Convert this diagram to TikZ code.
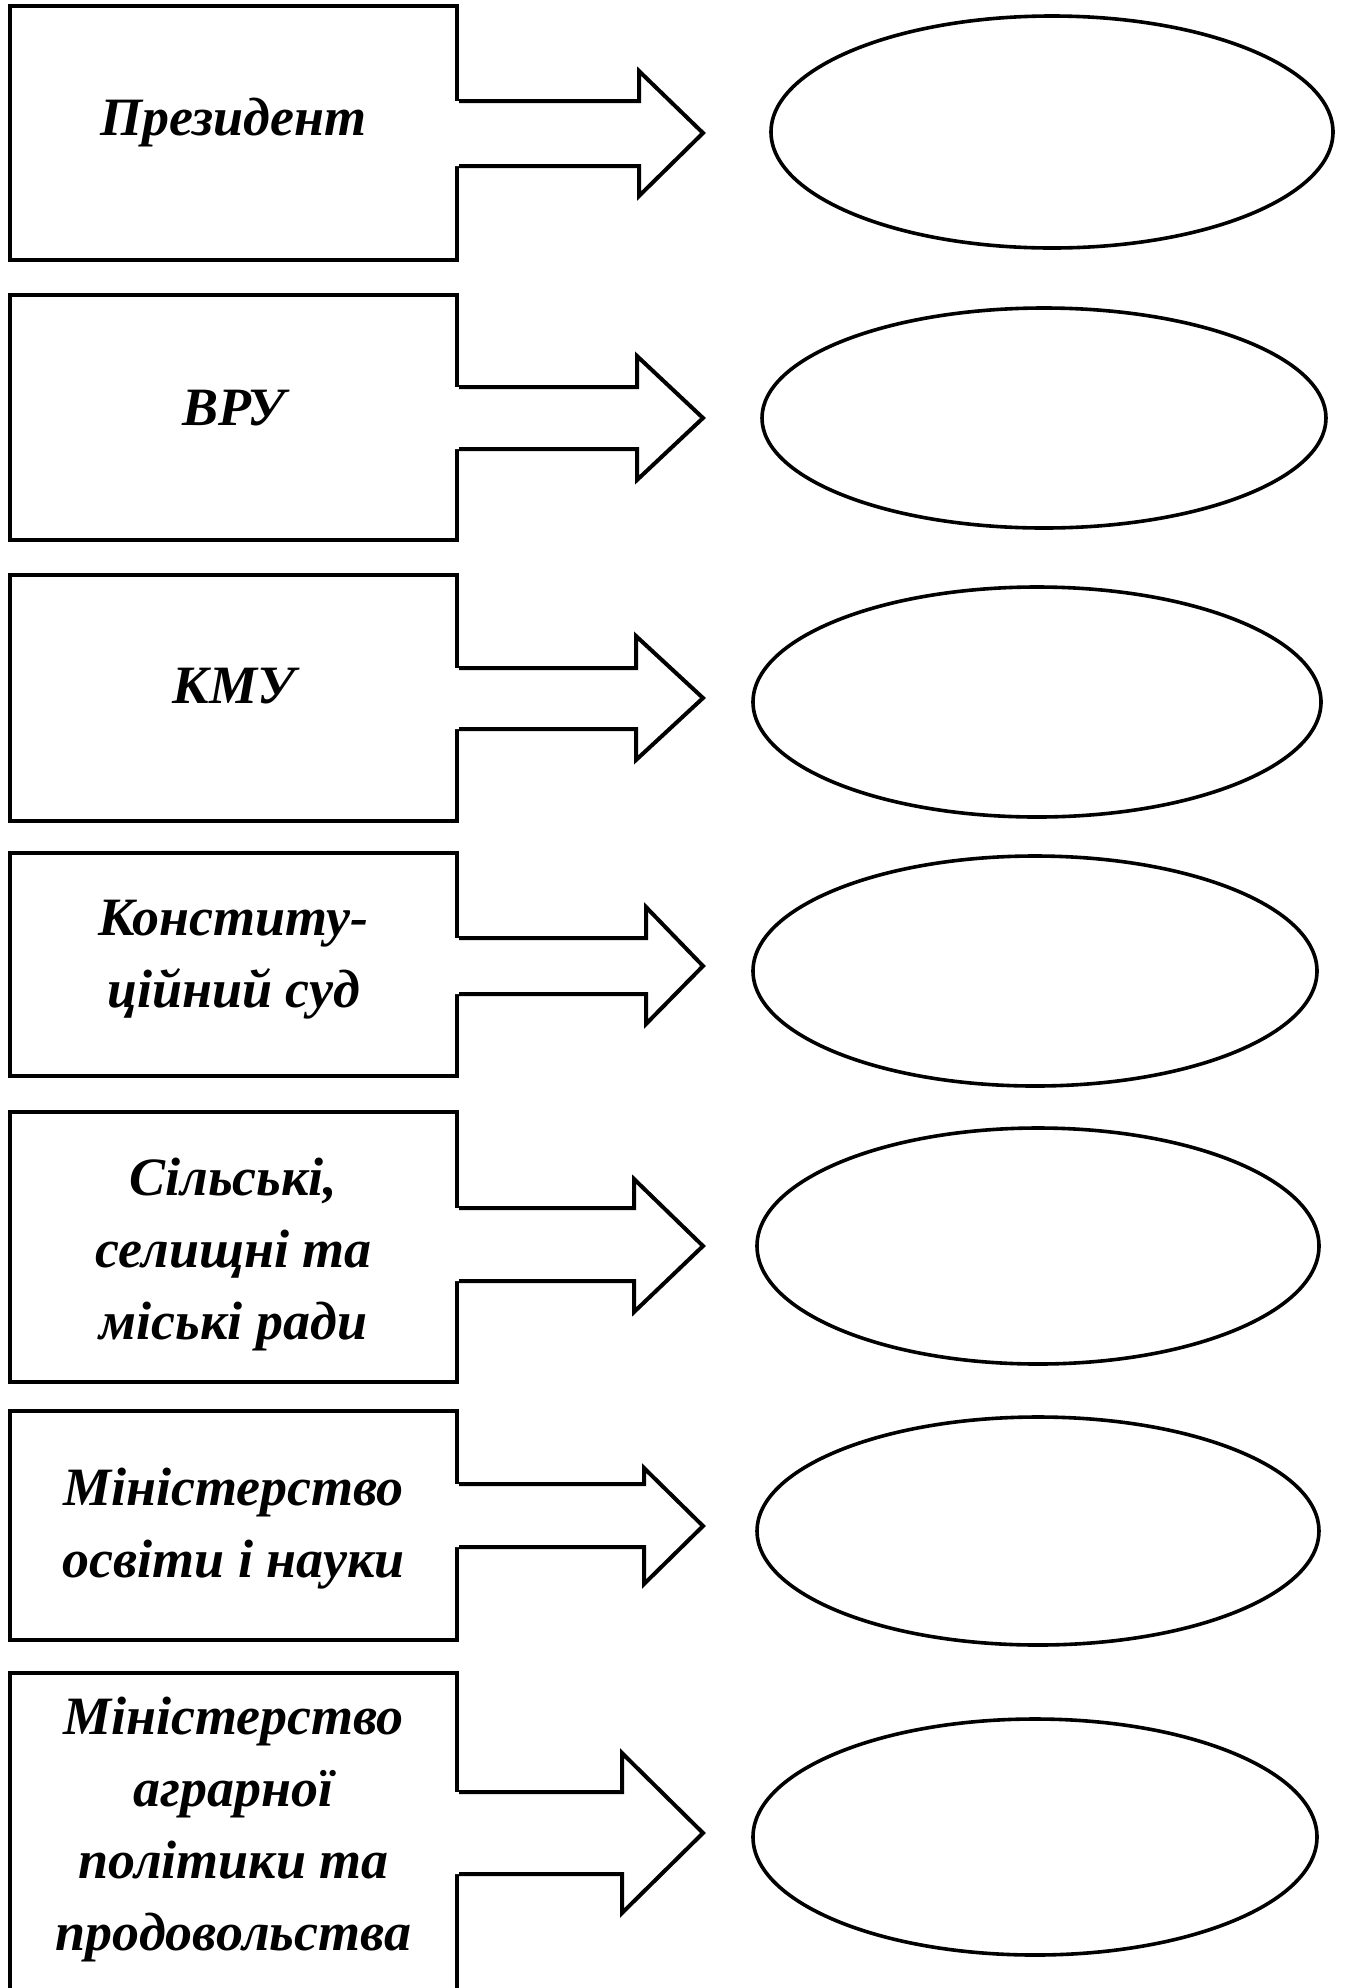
\documentclass[tikz,border=0pt]{standalone}
\usepackage{fontspec}
\setmainfont{Liberation Serif}
\usetikzlibrary{shapes.geometric}
\begin{document}
\begin{tikzpicture}[x=0.5pt,y=-0.5pt,
  box/.style={draw, line width=2pt, rectangle, inner sep=0pt, minimum width=223.5pt},
  oval/.style={draw, line width=1.8pt, ellipse, inner sep=0pt},
  lbl/.style={align=center, inner sep=0pt, font=\fontsize{27pt}{36pt}\selectfont\bfseries\itshape},
  barrow/.style={line width=2pt, line join=miter}]
\useasboundingbox (0,0) rectangle (1346,1988);
\fill[white] (0,0) rectangle (1346,1988);
\clip (0,0) rectangle (1346,1988);

% boxes
\node[box, minimum height=127pt]   (b1) at (233.5,133) {};
\node[box, minimum height=122.5pt] (b2) at (233.5,417.5) {};
\node[box, minimum height=123pt]   (b3) at (233.5,698) {};
\node[box, minimum height=111.5pt] (b4) at (233.5,964.5) {};
\node[box, minimum height=135pt]   (b5) at (233.5,1247) {};
\node[box, minimum height=114.5pt] (b6) at (233.5,1525.5) {};
\node[box, minimum height=178.5pt] (b7) at (233.5,1851.5) {};

% labels
\node[lbl] (t1) at (233.5,120.6) {\strut Президент};
\node[lbl] (t2) at (233.5,410.6) {\strut ВРУ};
\node[lbl] (t3) at (233.5,688.6) {\strut КМУ};
\node[lbl] (t4) at (233.5,956.6) {\strut Конститу-\\\strut ційний суд};
\node[lbl] (t5) at (233.5,1253) {\strut Сільські,\\\strut селищні та\\\strut міські ради};
\node[lbl] (t6) at (233.5,1527) {\strut Міністерство\\\strut освіти і науки};
\node[lbl] (t7) at (233.5,1828) {\strut Міністерство\\\strut аграрної\\\strut політики та\\\strut продовольства};

% ellipses
\node[oval, minimum width=281pt, minimum height=116pt] (e1) at (1052,132) {};
\node[oval, minimum width=282pt, minimum height=110pt] (e2) at (1044,418) {};
\node[oval, minimum width=284pt, minimum height=115pt] (e3) at (1037,702) {};
\node[oval, minimum width=282pt, minimum height=115pt] (e4) at (1035,971) {};
\node[oval, minimum width=281pt, minimum height=118pt] (e5) at (1038,1246) {};
\node[oval, minimum width=281pt, minimum height=114pt] (e6) at (1038,1531) {};
\node[oval, minimum width=282pt, minimum height=118pt] (e7) at (1035,1837) {};

% block arrows
\foreach \n/\ya/\yb/\hx/\ht/\hb/\ty in {
  1/101/166/639/71/196/133,
  2/387/449/637/356/480/418,
  3/668/729/636/636/760/698,
  4/938/994/646/907/1024/966,
  5/1208/1281/634/1179/1312/1246,
  6/1484/1547/644/1468/1584/1526,
  7/1792/1874/622/1753/1913/1833}{
  \fill[white] (452,\ya) -- (\hx,\ya) -- (\hx,\ht) -- (703,\ty) -- (\hx,\hb) -- (\hx,\yb) -- (452,\yb) -- cycle;
  \draw[barrow] (b\n.east |- 0,\ya) -- (\hx,\ya) -- (\hx,\ht) -- (703,\ty) -- (\hx,\hb) -- (\hx,\yb) -- (b\n.east |- 0,\yb);
}
\end{tikzpicture}
\end{document}
